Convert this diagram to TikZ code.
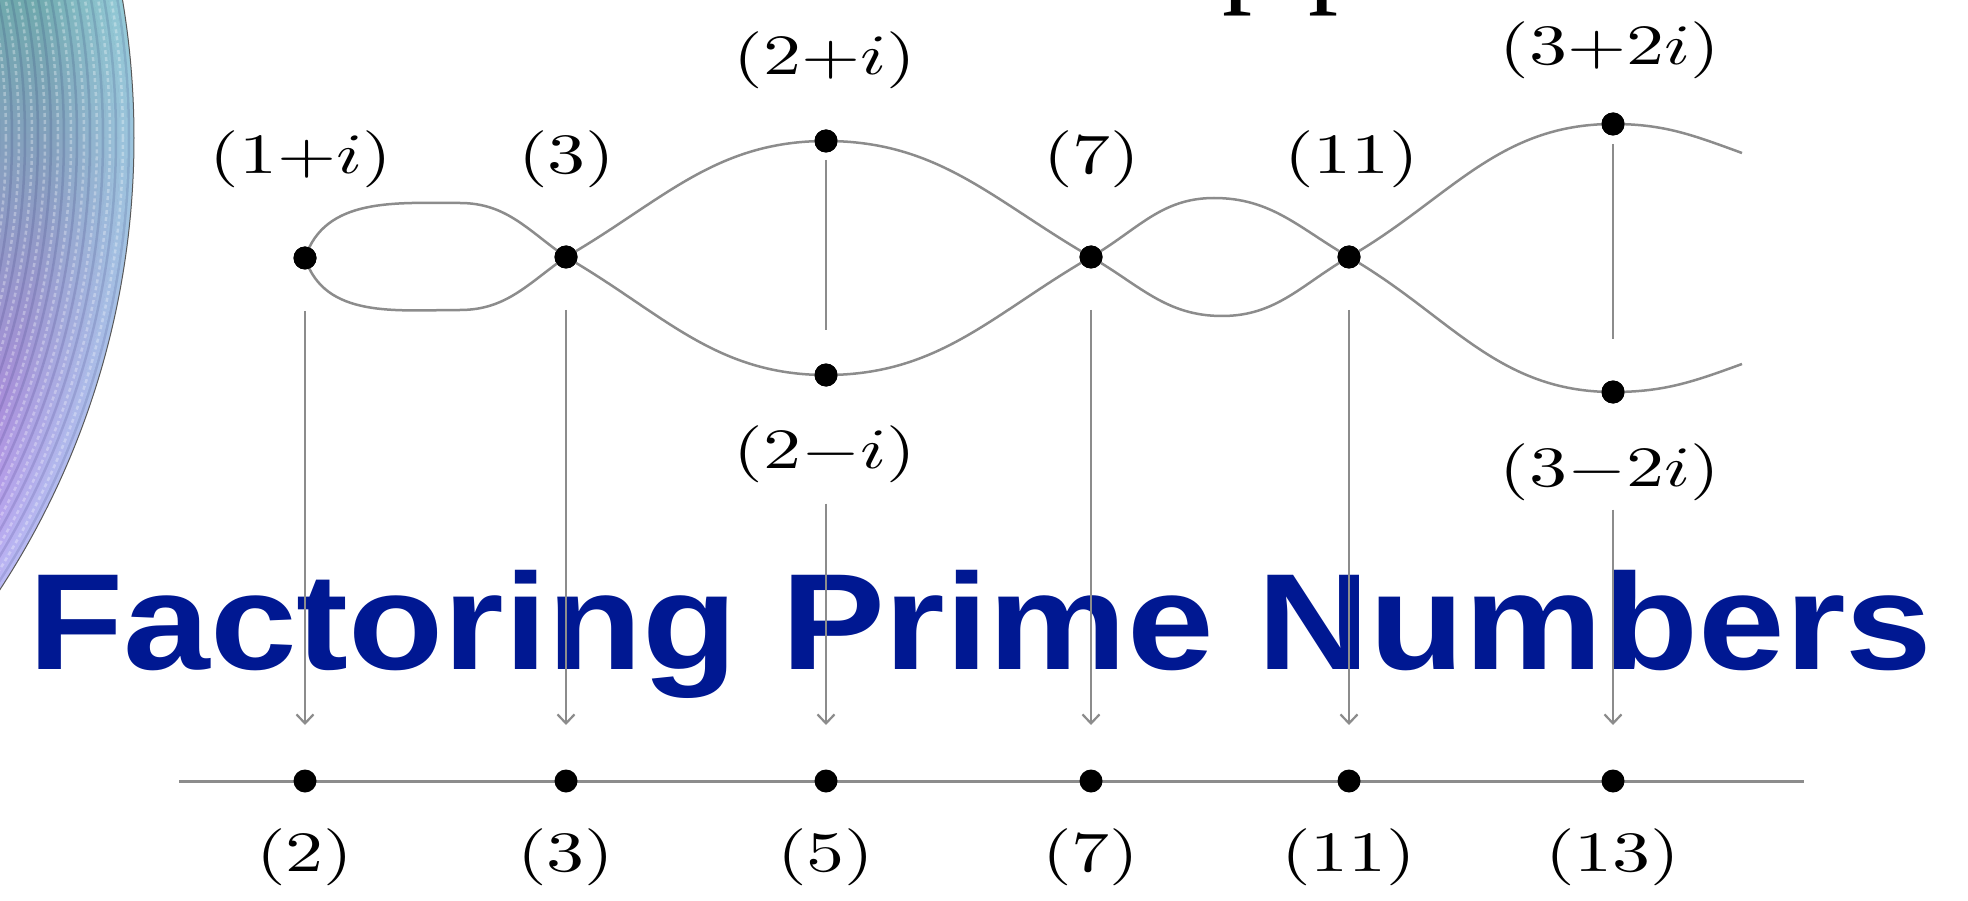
\documentclass[tikz,border=0pt]{standalone}
\usepackage{fontspec}
\newfontfamily\titlefont{Liberation Sans}
\newfontfamily\cutfont{Liberation Serif}
\usetikzlibrary{arrows.meta}
\definecolor{titleblue}{RGB}{0,24,146}
\definecolor{cTop}{RGB}{110,170,172}
\definecolor{cMid}{RGB}{128,156,205}
\definecolor{cBot}{RGB}{200,128,242}
\definecolor{lineg}{RGB}{140,140,140}
\begin{document}
\begin{tikzpicture}[x=1pt,y=1pt,
  dot/.style={circle, fill=black, inner sep=0pt, minimum size=23pt},
  lab/.style={inner sep=0pt, xscale=7.6, yscale=5.7},
  strand/.style={draw=lineg, line width=2.5pt},
  thinl/.style={draw=lineg, line width=2.2pt},
  arr/.style={draw=lineg, line width=2.2pt, -{Straight Barb[length=9pt,width=17pt,line width=2.2pt]}},
  axisl/.style={draw=lineg, line width=3pt}]
\useasboundingbox (0,0) rectangle (1968,-901);
\fill[white] (0,0) rectangle (1968,-901);

% decorative sphere on the left
\begin{scope}
  \clip (-693,-138) circle (827);
  \shade[top color=cTop, middle color=cMid, bottom color=cBot] (-20,10) rectangle (170,-620);
  \foreach \k in {0,...,11} {
    \draw[cyan!30!white, opacity={0.045*(12-\k)}, line width=7pt] (-693,-138) circle ({827-3.5-7*\k});
  }
  \foreach \r in {822,809,...,600} {
    \draw[black!70!blue, opacity=0.12, line width=2.5pt] (-693,-138) circle (\r);
    \draw[white, opacity=0.3, line width=2.5pt, dash pattern=on 4pt off 3pt] (-693,-138) circle (\r-6);
  }
\end{scope}
\draw[gray!70!black, line width=1pt] (-693,-138) circle (827);

% cut-off text at the top
\node[font=\cutfont\fontsize{120}{120}\selectfont, anchor=base west, inner sep=0pt] (cp1) at (1222,9) {p};
\node[font=\cutfont\fontsize{120}{120}\selectfont, anchor=base west, inner sep=0pt] (cp2) at (1308,9) {p};

% title
\node[font=\titlefont\bfseries\fontsize{137}{140}\selectfont, text=titleblue, anchor=base west, inner sep=0pt, xscale=1.137] (title) at (28,-669) {Factoring Prime Numbers};

% top nodes
\node[dot] (t1) at (305,-258) {};
\node[dot] (t3) at (566,-257) {};
\node[dot] (t2p) at (826,-141) {};
\node[dot] (t2m) at (826,-375) {};
\node[dot] (t7) at (1091,-257) {};
\node[dot] (t11) at (1349,-257) {};
\node[dot] (t3p) at (1613,-124) {};
\node[dot] (t3m) at (1613,-392) {};
\coordinate (l1t) at (460,-203);
\coordinate (l1b) at (460,-310);
\coordinate (l2t) at (1214,-198);
\coordinate (l2b) at (1222,-316);
\coordinate (eT) at (1742,-153);
\coordinate (eB) at (1742,-364);

% strands
\draw[strand] (t1.center) to[out=72,in=180] (l1t) to[out=0,in=145] (t3.center)
  to[out=-30,in=180] (t2m.center) to[out=0,in=210] (t7.center)
  to[out=30,in=180] (l2t) to[out=0,in=150] (t11.center)
  to[out=30,in=180] (t3p.center) to[out=0,in=160] (eT);
\draw[strand] (t1.center) to[out=-72,in=180] (l1b) to[out=0,in=215] (t3.center)
  to[out=30,in=180] (t2p.center) to[out=0,in=150] (t7.center)
  to[out=-30,in=180] (l2b) to[out=0,in=210] (t11.center)
  to[out=-30,in=180] (t3m.center) to[out=0,in=200] (eB);
\foreach \n in {t1,t3,t2p,t2m,t7,t11,t3p,t3m} \fill[black] (\n) circle (11.5pt);

% top labels
\node[lab] (L1) at (301,-159) {$(1{+}i)$};
\node[lab] (L3) at (567,-159) {$(3)$};
\node[lab] (L2p) at (825,-60) {$(2{+}i)$};
\node[lab] (L7) at (1092,-159) {$(7)$};
\node[lab] (L11) at (1352,-159) {$(11)$};
\node[lab] (L3p) at (1610,-50) {$(3{+}2i)$};
\node[lab] (L2m) at (825,-454) {$(2{-}i)$};
\node[lab] (L3m) at (1610,-472) {$(3{-}2i)$};

% bottom axis
\coordinate (axL) at (179,-781);
\coordinate (axR) at (1804,-781);
\draw[axisl] (axL) -- (axR);
\node[dot] (b2) at (305,-781) {};
\node[dot] (b3) at (566,-781) {};
\node[dot] (b5) at (826,-781) {};
\node[dot] (b7) at (1091,-781) {};
\node[dot] (b11) at (1349,-781) {};
\node[dot] (b13) at (1613,-781) {};
\node[lab] (B2) at (305,-857) {$(2)$};
\node[lab] (B3) at (566,-857) {$(3)$};
\node[lab] (B5) at (826,-857) {$(5)$};
\node[lab] (B7) at (1091,-857) {$(7)$};
\node[lab] (B11) at (1349,-857) {$(11)$};
\node[lab] (B13) at (1613,-857) {$(13)$};

% vertical connectors
\draw[arr, shorten <=53pt, shorten >=56pt] (t1.center) -- (b2.center);
\draw[arr, shorten <=53pt, shorten >=56pt] (t3.center) -- (b3.center);
\draw[arr, shorten <=53pt, shorten >=56pt] (t7.center) -- (b7.center);
\draw[arr, shorten <=53pt, shorten >=56pt] (t11.center) -- (b11.center);
\draw[thinl, shorten <=19pt, shorten >=45pt] (t2p.center) -- (t2m.center);
\draw[arr, shorten <=20pt, shorten >=56pt] (L2m.south -| b5) -- (b5.center);
\draw[thinl, shorten <=20pt, shorten >=53pt] (t3p.center) -- (t3m.center);
\draw[arr, shorten <=8pt, shorten >=56pt] (L3m.south -| b13) -- (b13.center);
\end{tikzpicture}
\end{document}
